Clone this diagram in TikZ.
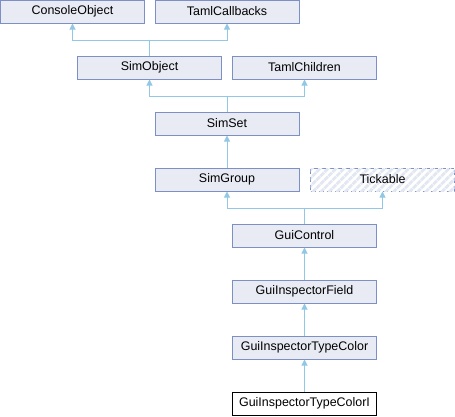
\documentclass[tikz,border=0pt]{standalone}
\usepackage{fontspec}
\setmainfont{Liberation Sans}
\usetikzlibrary{arrows.meta,patterns.meta}
\definecolor{boxfill}{HTML}{E8EBF4}
\definecolor{boxline}{HTML}{7C90C6}
\definecolor{edgeblue}{HTML}{93C7E6}
\definecolor{hatch}{HTML}{E2E7F2}
\begin{document}
\begin{tikzpicture}[x=1bp,y=-1bp,
  cls/.style={draw=boxline,fill=boxfill,line width=1bp,minimum width=144bp,minimum height=23bp,
    inner sep=0pt,font=\fontsize{12.5}{14}\selectfont},
  current/.style={cls,draw=black,fill=white},
  external/.style={cls,dash pattern=on 5bp off 3bp,fill=white,
    postaction={pattern={Lines[angle=45,distance=5.7bp,line width=2.8bp]},pattern color=hatch}},
  inh/.style={draw=edgeblue,line width=1bp,-{Triangle[width=6bp,length=6bp]}}]
\useasboundingbox (0,0) rectangle (455,416);

% classes
\node[cls] (console) at (72.5,11.5) {ConsoleObject};
\node[cls] (tamlcb) at (227,11.5) {TamlCallbacks};
\node[cls] (simobj) at (149.5,67.5) {SimObject};
\node[cls] (tamlch) at (304.5,67.5) {TamlChildren};
\node[cls] (simset) at (227,123.5) {SimSet};
\node[cls] (simgrp) at (227,179.5) {SimGroup};
\node[external] (tick) at (382.5,179.5) {Tickable};
\node[cls] (guictl) at (304.5,235.5) {GuiControl};
\node[cls] (field) at (304.5,291.5) {GuiInspectorField};
\node[cls] (tcolor) at (304.5,347.5) {GuiInspectorTypeColor};
\node[current] (tcolori) at (304.5,403.5) {GuiInspectorTypeColorI};

% bus levels for multiple inheritance
\coordinate (bus1) at (0,40.5);
\coordinate (bus2) at (0,96.5);
\coordinate (bus3) at (0,208.5);

% inheritance edges
\draw[inh] (simobj.north) -- (simobj.north |- bus1) -| (console.south);
\draw[inh] (simobj.north) -- (simobj.north |- bus1) -| (tamlcb.south);
\draw[inh] (simset.north) -- (simset.north |- bus2) -| (simobj.south);
\draw[inh] (simset.north) -- (simset.north |- bus2) -| (tamlch.south);
\draw[inh] (simgrp.north) -- (simset.south);
\draw[inh] (guictl.north) -- (guictl.north |- bus3) -| (simgrp.south);
\draw[inh] (guictl.north) -- (guictl.north |- bus3) -| (tick.south);
\draw[inh] (field.north) -- (guictl.south);
\draw[inh] (tcolor.north) -- (field.south);
\draw[inh] (tcolori.north) -- (tcolor.south);
\end{tikzpicture}
\end{document}
